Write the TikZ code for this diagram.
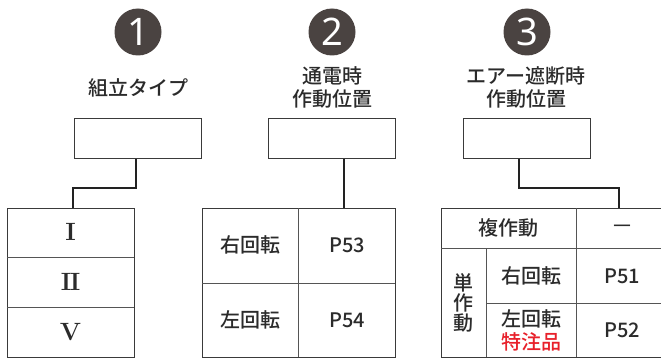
\documentclass[tikz,border=0pt]{standalone}
\usepackage{fontspec}
\newfontfamily\cjk{Noto Sans CJK JP Medium}
\newfontfamily\numf{Noto Sans}
\definecolor{badgec}{HTML}{4A4341}
\definecolor{txtc}{HTML}{2B2B2B}
\definecolor{boxc}{HTML}{3A3A3A}
\definecolor{gridc}{HTML}{555555}
\definecolor{connc}{HTML}{222222}
\definecolor{redc}{HTML}{E8202A}
\begin{document}
\begin{tikzpicture}[x=1pt,y=-1pt,
  jp/.style={font=\cjk\fontsize{20}{23}\selectfont, text=txtc, inner sep=0pt, align=center},
  roman/.style={font=\bfseries\fontsize{25}{25}\selectfont, text=txtc, inner sep=0pt},
  lbox/.style={draw=boxc, line width=1.2pt, minimum width=127pt, minimum height=40pt, inner sep=0pt, anchor=north west},
  tbl/.style={draw=boxc, line width=1.2pt, inner sep=0pt, anchor=north west},
  gridline/.style={draw=gridc, line width=1pt},
  conn/.style={draw=connc, line width=2.4pt},
  badge/.style={circle, fill=badgec, minimum size=47pt, inner sep=0pt, text=white, font=\numf\bfseries\fontsize{38}{38}\selectfont}]
\clip (0,0) rectangle (661,361);
\fill[white] (0,0) rectangle (661,361);

% badges
\node[badge] (n1) at (138,32) {1};
\node[badge] (n2) at (332,32) {2};
\node[badge] (n3) at (527,32) {3};

% labels
\node[jp] (l1) at (138,88) {組立タイプ};
\node[jp] (l2) at (332,87) {通電時\\作動位置};
\node[jp] (l3) at (526,87) {エアー遮断時\\作動位置};

% boxes
\node[lbox] (b1) at (74,118) {};
\node[lbox] (b2) at (268,118) {};
\node[lbox] (b3) at (463,118) {};

% tables
\node[tbl, minimum width=127pt, minimum height=149pt] (t1) at (7,208) {};
\node[tbl, minimum width=193pt, minimum height=149pt] (t2) at (202,208) {};
\node[tbl, minimum width=226pt, minimum height=149pt] (t3) at (441,208) {};

% connectors
\coordinate (c1) at (73,208);
\coordinate (c2) at (344,208);
\coordinate (c3) at (619,208);
\draw[conn] (b1.south -| 136,0) -- (136,188) -| (c1);
\draw[conn] (b2.south -| c2) -- (c2);
\draw[conn] (b3.south -| 519,0) -- (519,188) -| (c3);

% table 1
\draw[gridline] (7,257) -- (134,257);
\draw[gridline] (7,307) -- (134,307);
\node[roman] (r1) at (70.5,232) {I};
\node[roman] (r2) at (70.5,282) {I\kern-0.06em I};
\node[roman] (r3) at (70.5,332) {V};

% table 2
\draw[gridline] (298,208) -- (298,357);
\draw[gridline] (202,283) -- (395,283);
\node[jp] (a1) at (250,245) {右回転};
\node[jp] (a2) at (347,245) {P53};
\node[jp] (a3) at (250,320) {左回転};
\node[jp] (a4) at (347,320) {P54};

% table 3
\draw[gridline] (576,208) -- (576,357);
\draw[gridline] (441,248) -- (667,248);
\draw[gridline] (486,248) -- (486,357);
\draw[gridline] (486,303) -- (667,303);
\node[jp] (s1) at (508,228) {複作動};
\node[jp] (s2) at (622,228) {—};
\node[jp, font=\cjk\fontsize{20}{20}\selectfont] (s3) at (463,303) {単\\作\\動};
\node[jp] (s4) at (531,276) {右回転};
\node[jp] (s5) at (622,276) {P51};
\node[jp] (s6) at (531,330) {左回転\\\textcolor{redc}{特注品}};
\node[jp] (s7) at (622,330) {P52};
\end{tikzpicture}
\end{document}
